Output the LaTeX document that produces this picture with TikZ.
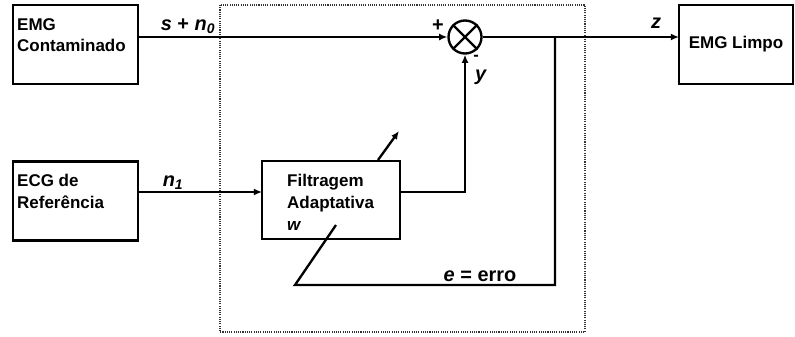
\documentclass[tikz,border=0pt]{standalone}
\usepackage{fontspec}
\setmainfont{Liberation Sans}
\usetikzlibrary{arrows.meta}

\begin{document}
\begin{tikzpicture}[x=0.03cm,y=-0.03cm,line width=2pt,
  >={Latex[length=7pt,width=6pt]},
  bloco/.style={draw,line width=2pt,inner sep=0pt,outer sep=0pt,minimum height=2.37cm},
  texto/.style={font=\fontsize{14.5}{18.7}\selectfont\bfseries,align=left,inner sep=0pt,anchor=north west},
  rotulo/.style={font=\fontsize{17}{20}\selectfont\bfseries,inner sep=0pt,anchor=base},
  somador/.style={draw,circle,line width=2pt,minimum size=0.99cm,inner sep=0pt}]
\useasboundingbox (0,0) rectangle (795,336);
% caixa pontilhada do filtro
\draw[densely dotted,line width=0.9pt,black!80] (220,5) rectangle (585,332);
% blocos
\node[bloco,minimum width=3.75cm] (emg) at (75.5,44.5) {};
\node[texto] (emgtxt) at (16,17) {EMG\\Contaminado};
\node[bloco,minimum width=3.75cm] (ecg) at (75.5,201) {};
\node[texto] (ecgtxt) at (16,173) {ECG de\\Refer\^encia};
\node[bloco,minimum width=4.14cm,minimum height=2.34cm] (filt) at (331,200) {};
\node[texto] (filttxt) at (286,173) {Filtragem\\Adaptativa\\\textit{w}};
\node[bloco,minimum width=3.42cm,font=\fontsize{14.5}{18.7}\selectfont\bfseries] (limpo) at (736,44.5) {EMG Limpo};
\node[somador] (sum) at (465,37) {};
\draw (sum.45) -- (sum.225);
\draw (sum.135) -- (sum.315);
% pontos auxiliares
\coordinate (fin) at (262,192);
\coordinate (fout) at (400,192);
\coordinate (tap) at (555,37);
\coordinate (fbbase) at (295,285);
\coordinate (fbtop) at (336,225);
\coordinate (adbase) at (378,160);
\coordinate (adtop) at (399,131);
% ligacoes
\draw[->] (emg.east |- sum) -- (sum.west);
\draw[->] (ecg.east |- fin) -- (fin);
\draw[->] (fout) -| (sum.south);
\draw[->] (sum.east) -- (limpo.west |- sum);
\draw (tap) |- (fbbase) -- (fbtop);
\draw[->] (adbase) -- (adtop);
% rotulos
\node[rotulo] (lbls) at (188,30) {\textit{s} + \textit{n}\textsubscript{\textit{0}}};
\node[rotulo] (lbln) at (173,186) {\textit{n}\textsubscript{\textit{1}}};
\node[rotulo] (lblz) at (656,28) {\textit{z}};
\node[rotulo] (lblmais) at (438,31) {+};
\node[rotulo,font=\fontsize{14}{16}\selectfont\bfseries] (lblmenos) at (476,60) {-};
\node[rotulo] (lbly) at (481,80) {\textit{y}};
\node[rotulo] (lble) at (480,281) {\textit{e} = erro};
\end{tikzpicture}
\end{document}
